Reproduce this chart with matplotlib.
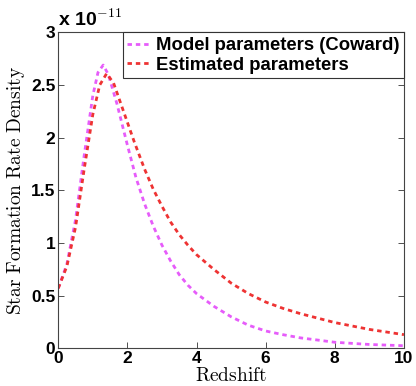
import numpy as np
import matplotlib
matplotlib.use('Agg')
import matplotlib.pyplot as plt

plt.rcParams['mathtext.fontset'] = 'cm'

# ------------------------------------------------------------------ data (units of 1e-11)
z_model = [0.0, 0.25, 0.5, 0.75, 1.0, 1.15, 1.3, 1.45, 1.7, 2.0, 2.25, 2.5, 2.75,
           3.0, 3.25, 3.5, 3.75, 4.0, 4.5, 5.0, 5.5, 6.0, 6.5, 7.0, 8.0, 9.0, 10.0]
sfr_model = [0.57, 0.80, 1.22, 1.83, 2.40, 2.62, 2.69, 2.60, 2.32, 1.93, 1.62, 1.37, 1.16,
             0.98, 0.83, 0.70, 0.60, 0.52, 0.40, 0.30, 0.22, 0.165, 0.13, 0.10, 0.058, 0.037, 0.025]

z_est = [0.0, 0.25, 0.5, 0.75, 1.0, 1.2, 1.4, 1.6, 1.9, 2.2, 2.5, 2.75, 3.0, 3.25,
         3.5, 3.75, 4.0, 4.5, 5.0, 5.5, 6.0, 6.5, 7.0, 8.0, 9.0, 10.0]
sfr_est = [0.57, 0.78, 1.15, 1.70, 2.22, 2.50, 2.61, 2.52, 2.24, 1.96, 1.70, 1.51, 1.35, 1.20,
           1.08, 0.98, 0.89, 0.75, 0.62, 0.52, 0.44, 0.38, 0.33, 0.245, 0.18, 0.13]

labels = ['Model parameters (Coward)', 'Estimated parameters']
x_ticks = [0, 2, 4, 6, 8, 10]
y_ticks = [0, 0.5, 1, 1.5, 2, 2.5, 3]
y_tick_labels = ['0', '0.5', '1', '1.5', '2', '2.5', '3']

# ------------------------------------------------------------------ figure
fig = plt.figure(figsize=(4.16, 3.86), dpi=100)
ax = fig.add_axes([0.140, 0.0975, 0.831, 0.8185])

dash = (0, (1.6, 1.4))
ax.plot(z_model, sfr_model, color='#E65CFA', lw=2.0, linestyle=dash, label=labels[0])
ax.plot(z_est, sfr_est, color='#EE3333', lw=2.0, linestyle=dash, label=labels[1])

ax.set_xlim(0, 10)
ax.set_ylim(0, 3)
ax.set_xticks(x_ticks)
ax.set_yticks(y_ticks)
ax.set_yticklabels(y_tick_labels)
tick_font = dict(family='Liberation Sans', weight='bold', size=12.5)
for lab in ax.get_xticklabels() + ax.get_yticklabels():
    lab.set_fontproperties(matplotlib.font_manager.FontProperties(**tick_font))
ax.tick_params(direction='in', top=True, right=True, length=4, width=0.6,
               colors='#333333', labelcolor='black', pad=2)
for s in ax.spines.values():
    s.set_color('#444444'); s.set_linewidth(0.8)

ax.set_xlabel(r'$\mathrm{Redshift}$', fontsize=14, labelpad=0)
ax.set_ylabel(r'$\mathrm{Star\ Formation\ Rate\ Density}$', fontsize=14, labelpad=3)

fig.text(0.140, 0.922, r'x 10$^{\mathbf{-11}}$', fontsize=14, fontweight='bold',
         family='Liberation Sans', ha='left', va='bottom')

leg = ax.legend(loc='upper right', borderaxespad=0, handlelength=1.3, handletextpad=0.25,
                prop=dict(family='Liberation Sans', weight='bold', size=13.3),
                fancybox=False, framealpha=1, borderpad=0.25, labelspacing=0.15)
leg.get_frame().set_edgecolor('#333333')
leg.get_frame().set_linewidth(0.8)

fig.savefig('out.png', dpi=100)
